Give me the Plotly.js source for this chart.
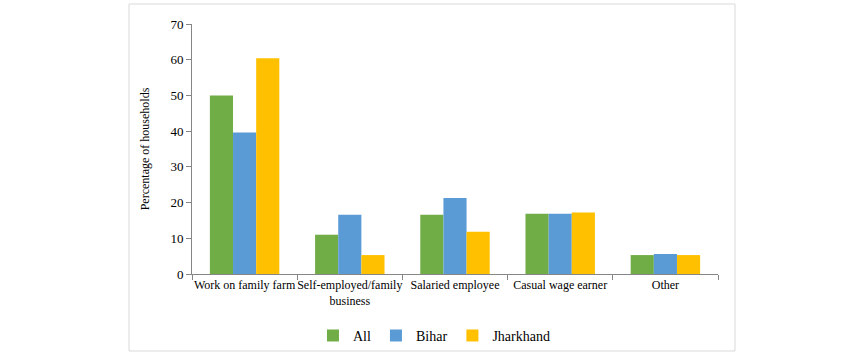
<!DOCTYPE html>
<html><head><meta charset="utf-8">
<script src="https://cdn.plot.ly/plotly-3.0.1.min.js"></script>
<style>body{margin:0;background:#fff}#c{width:862px;height:360px}</style>
</head><body><div id="c"></div>
<script>
const categories = ["Work on family farm", "Self-employed/family<br>business", "Salaried employee", "Casual wage earner", "Other"];
const seriesNames = ["All", "Bihar", "Jharkhand"];
const allVals = [50.0, 11.0, 16.6, 16.9, 5.3];
const biharVals = [39.6, 16.6, 21.3, 16.9, 5.6];
const jharkhandVals = [60.4, 5.3, 11.8, 17.2, 5.3];
const colors = ["#70ad47", "#5b9bd5", "#ffc000"];
const yTicks = [0, 10, 20, 30, 40, 50, 60, 70];

const fam = "Liberation Serif";
const font = {family: fam, size: 12, color: "#000"};
const vals = [allVals, biharVals, jharkhandVals];
const data = seriesNames.map((n, i) => ({
  type: "bar", name: n, x: categories, y: vals[i],
  marker: {color: colors[i], line: {width: 0}}, hoverinfo: "none"
}));
const L = 192, R = 718, T = 24, B = 274;
const W = R - L, H = B - T;
const layout = {
  width: 862, height: 360,
  margin: {l: L, r: 862 - R, t: T, b: 360 - B},
  paper_bgcolor: "#fff", plot_bgcolor: "#fff",
  font: font,
  barmode: "group", bargap: 0.34, bargroupgap: 0,
  showlegend: true,
  legend: {orientation: "h", x: 0.46, xanchor: "center", yref: "container", y: 0.067, yanchor: "middle",
           bgcolor: "rgba(0,0,0,0)",
           font: {family: fam, size: 14, color: "#000"}, itemwidth: 30, tracegroupgap: 0},
  xaxis: {type: "category", showgrid: false, showline: true, linecolor: "#868686", linewidth: 1,
          ticks: "outside", tickson: "boundaries", ticklen: 5, tickcolor: "#868686",
          tickangle: 0, tickfont: font, automargin: false},
  yaxis: {range: [0, 70], tickvals: yTicks, showgrid: false, showline: true, linecolor: "#868686",
          linewidth: 1, ticks: "outside", ticklen: 5, tickcolor: "#868686", zeroline: false,
          tickfont: {family: fam, size: 13, color: "#000"}, automargin: false,
          title: {text: "Percentage of households", font: font, standoff: 18}},
  shapes: [{type: "rect", xref: "paper", yref: "paper",
            x0: (129 - L) / W, x1: (735 - L) / W, y0: (B - 351) / H, y1: (B - 4) / H,
            line: {color: "#d9d9d9", width: 1}, fillcolor: "rgba(0,0,0,0)", layer: "below"}]
};
Plotly.newPlot("c", data, layout, {displayModeBar: false, staticPlot: true});
</script></body></html>
